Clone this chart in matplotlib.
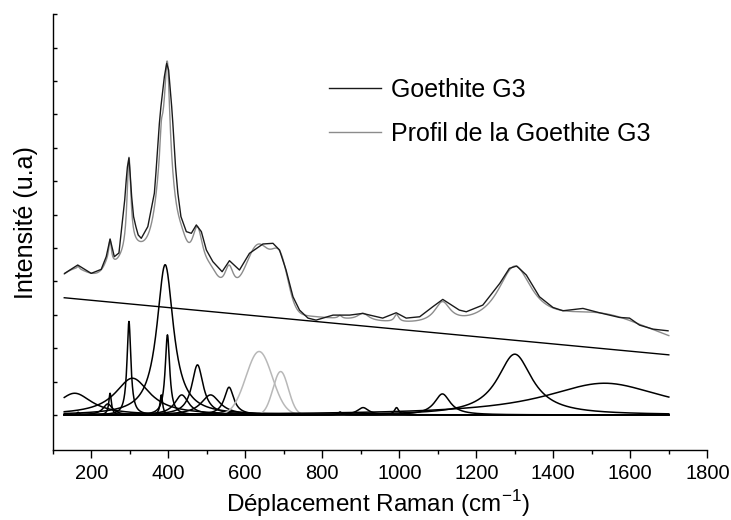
import matplotlib
matplotlib.use('Agg')
import matplotlib.pyplot as plt
import numpy as np

plt.rcParams['font.family'] = ['Liberation Sans', 'DejaVu Sans']

# spectre mesuré (cm-1, u.a)
raman_x = [131, 165, 200, 226, 239, 249, 260, 272, 287, 291, 294, 298, 301, 305,
           310, 316, 322, 330, 347, 364, 368, 377, 381, 390, 396, 401, 409, 412,
           419, 425, 433, 447, 460, 473, 486, 499, 516, 540, 559, 585, 611,
           646, 672, 689, 706, 724, 741, 763, 784, 828, 871, 905, 957, 992, 1018,
           1035, 1053, 1070, 1087, 1113, 1156, 1174, 1217, 1261, 1286, 1305, 1330,
           1364, 1399, 1425, 1477, 1520, 1572, 1598, 1624, 1659, 1698]
raman_y = [4.24, 4.49, 4.24, 4.36, 4.74, 5.27, 4.74, 4.85, 6.44, 7.04, 7.43, 7.69,
           7.24, 6.54, 5.94, 5.64, 5.39, 5.29, 5.64, 6.64, 7.24, 8.73, 9.23, 10.13,
           10.53, 10.33, 9.23, 8.73, 7.43, 6.64, 5.94, 5.49, 5.44, 5.69, 5.49, 4.94,
           4.59, 4.29, 4.62, 4.34, 4.84, 5.12, 5.14, 4.94, 4.34, 3.54, 3.14, 2.90,
           2.84, 2.99, 2.99, 3.04, 2.90, 3.06, 2.90, 2.92, 2.94, 3.09, 3.24, 3.46,
           3.14, 3.09, 3.29, 3.94, 4.39, 4.46, 4.19, 3.54, 3.22, 3.12, 3.19, 3.06,
           2.92, 2.90, 2.69, 2.57, 2.52]

# composantes de la décomposition : position, hauteur, demi-largeur
centres = [157, 166, 243, 249, 298, 307, 392, 398, 382, 435, 476, 510, 558,
           636, 692, 846, 906, 993, 1112, 1300, 1533]
hauteurs = [0.65, 0.08, 0.33, 0.65, 2.8, 1.1, 4.5, 2.4, 0.6, 0.6, 1.5, 0.6,
            0.83, 1.9, 1.3, 0.09, 0.22, 0.22, 0.63, 1.82, 0.95]
largeurs = [55, 4, 15, 4, 6, 55, 26, 7, 4, 22, 18, 30, 15, 34, 20, 6, 18, 7,
            25, 55, 190]
gauss = [False] * 13 + [True, True] + [False] * 6

# ligne de base linéaire
fond_x = [130, 1700]
fond_y = [3.51, 1.80]

x = np.linspace(130, 1700, 1571)
fond = np.interp(x, fond_x, fond_y)

composantes = []
for c, h, w, g in zip(centres, hauteurs, largeurs, gauss):
    if g:
        composantes.append(h * np.exp(-0.5 * ((x - c) / w) ** 2))
    else:
        composantes.append(h / (1 + ((x - c) / w) ** 2))
profil = fond + np.sum(composantes, axis=0)

fig = plt.figure(figsize=(7.31, 5.2), dpi=100)
ax = fig.add_axes([0.0721, 0.1346, 0.8955, 0.838])

ax.plot(x, profil, color='#8c8c8c', lw=1.0, label='Profil de la Goethite G3', zorder=2)
ax.plot(raman_x, raman_y, color='#1a1a1a', lw=1.0, label='Goethite G3', zorder=3)
ax.plot(x, fond, color='black', lw=1.0)
for comp, g in zip(composantes, gauss):
    ax.plot(x, comp, color='#b8b8b8' if g else 'black', lw=1.1)

ax.set_xlim(100, 1800)
ax.set_ylim(-1.05, 12.0)
ax.set_xticks(np.arange(200, 1801, 200))
ax.set_xticks(np.arange(100, 1801, 100), minor=True)
ax.set_yticks(np.arange(0, 12.1, 1))
ax.tick_params(axis='x', which='major', direction='out', length=6, width=1, labelsize=14.5, pad=4)
ax.tick_params(axis='x', which='minor', direction='out', length=3, width=1)
ax.tick_params(axis='y', direction='in', length=3, width=1, labelleft=False)
for s in ['top', 'right']:
    ax.spines[s].set_visible(False)
for s in ['left', 'bottom']:
    ax.spines[s].set_linewidth(1.0)

ax.set_xlabel(r'Déplacement Raman (cm$^{\mathregular{-1}}$)', fontsize=17.5)
ax.set_ylabel('Intensité (u.a)', fontsize=18)
ax.xaxis.set_label_coords(0.497, -0.087)
ax.yaxis.set_label_coords(-0.022, 0.523)

h, l = ax.get_legend_handles_labels()
ax.legend(h[::-1], l[::-1], loc='upper left', bbox_to_anchor=(0.387, 0.905), frameon=False,
          fontsize=18, handlelength=2.1, handletextpad=0.4, labelspacing=0.8)

fig.savefig('out.png', dpi=100)
